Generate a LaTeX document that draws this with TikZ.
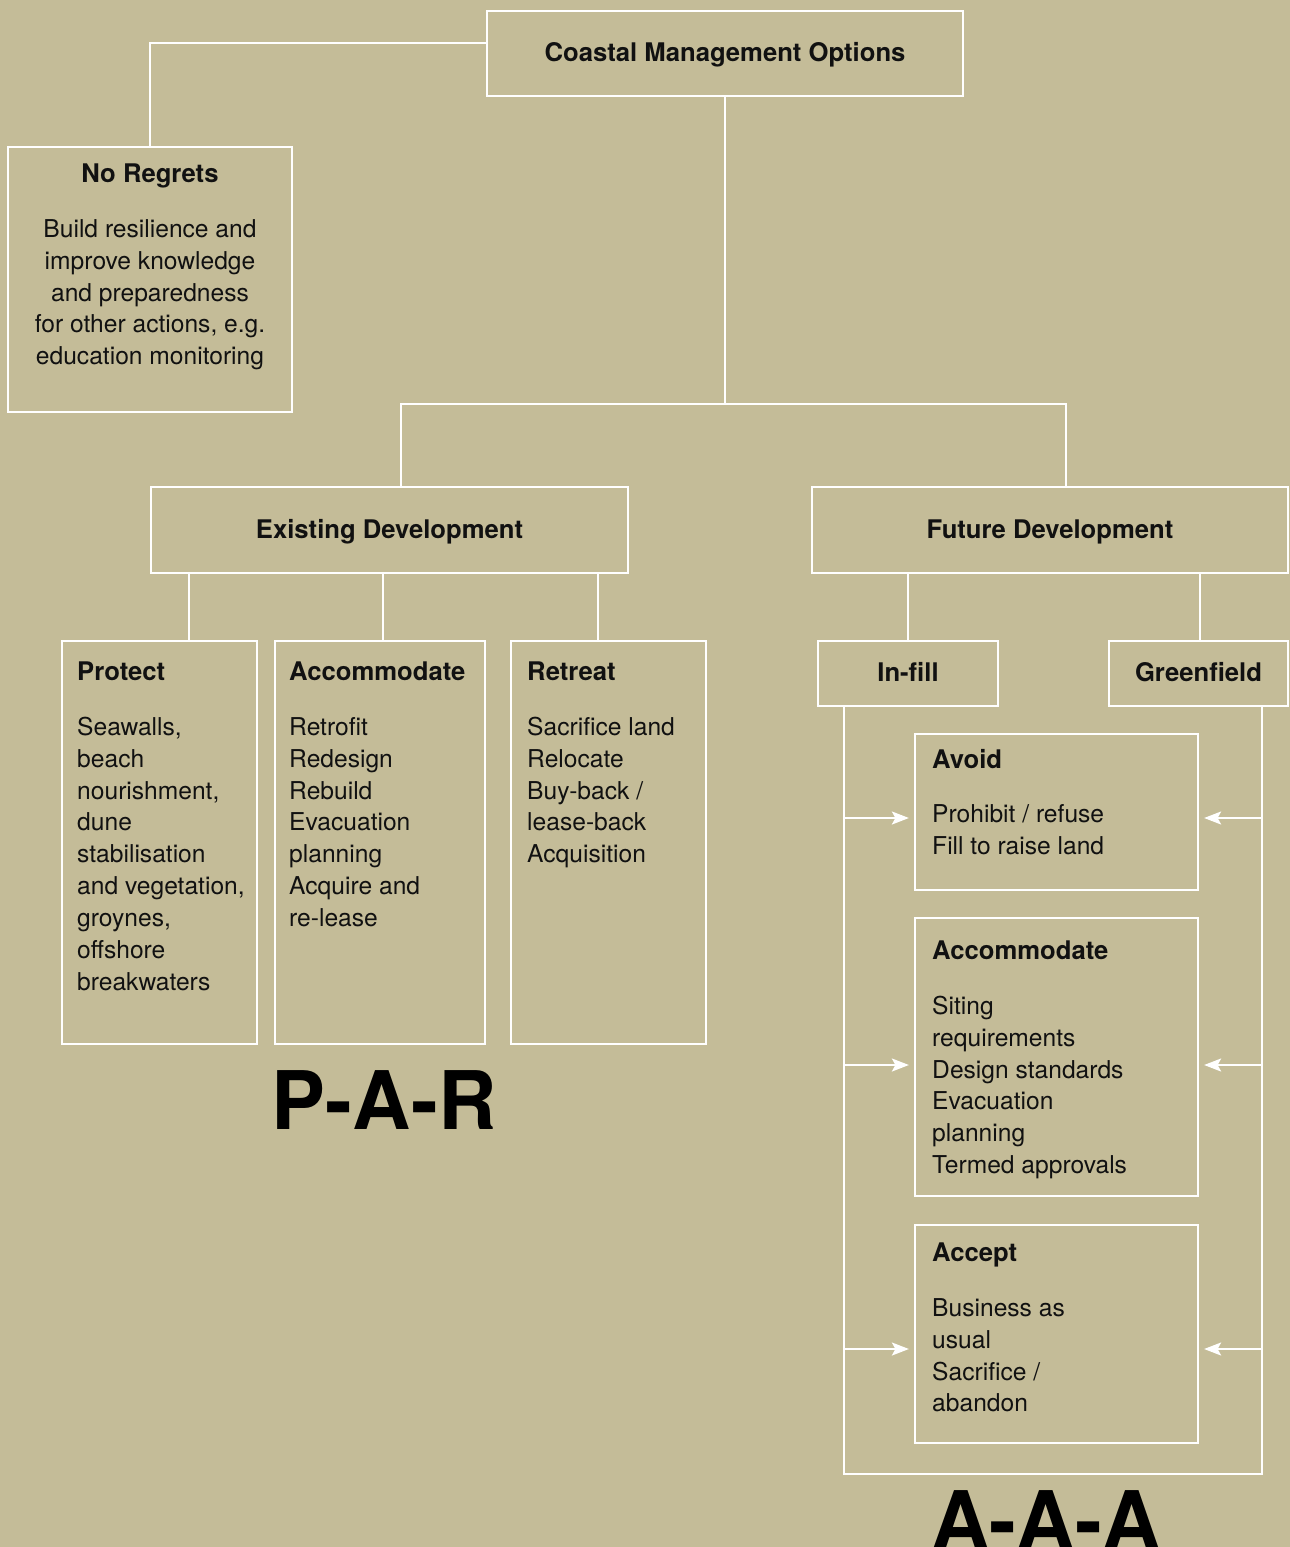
\documentclass[tikz,border=0pt]{standalone}
\usepackage{fontspec}
\setmainfont{TeX Gyre Heros}
\usepackage{xcolor}
\usetikzlibrary{arrows.meta}
\definecolor{sandbg}{HTML}{C4BC98}
\definecolor{inkblack}{HTML}{111111}
\newcommand{\hd}[1]{{\fontsize{14.6}{18.1}\selectfont\bfseries #1}}

\begin{document}
\begin{tikzpicture}[
  x=0.02cm, y=-0.02cm,
  every node/.style={font=\fontsize{14}{18.1}\selectfont, text=inkblack},
  box/.style={draw=white, line width=1.3pt, inner sep=0pt},
  head/.style={box, font=\fontsize{14.6}{18.1}\selectfont\bfseries, text depth=0.2ex, text height=2ex},
  txt/.style={inner sep=0pt, align=left, anchor=north west},
  link/.style={draw=white, line width=1.1pt},
  flow/.style={link, -{Stealth[length=0.34cm, width=0.26cm, inset=0.07cm]}, shorten >=0.1cm},
  big/.style={font=\fontsize{46}{46}\selectfont\bfseries, text=black, inner sep=0pt}
]

\fill[sandbg] (0,0) rectangle (1290,1547);
\useasboundingbox (0,0) rectangle (1290,1547);

\node[head, minimum width=9.52cm, minimum height=1.7cm] (cmo) at (725,53.5) {Coastal Management Options};
\node[box, minimum width=5.68cm, minimum height=5.3cm] (noreg) at (150,279.5) {};
\node[head, minimum width=9.54cm, minimum height=1.72cm] (existdev) at (389.5,530) {Existing Development};
\node[head, minimum width=9.52cm, minimum height=1.72cm] (futuredev) at (1050,530) {Future Development};

\node[box, minimum width=3.9cm, minimum height=8.06cm] (protect) at (159.5,842.5) {};
\node[box, minimum width=4.2cm, minimum height=8.06cm] (accom) at (380,842.5) {};
\node[box, minimum width=3.9cm, minimum height=8.06cm] (retreat) at (608.5,842.5) {};

\node[head, minimum width=3.6cm, minimum height=1.3cm] (infill) at (908,673.5) {In-fill};
\node[head, minimum width=3.58cm, minimum height=1.3cm] (greenfield) at (1198.5,673.5) {Greenfield};

\node[box, minimum width=5.66cm, minimum height=3.12cm] (avoid) at (1056.5,812) {};
\node[box, minimum width=5.66cm, minimum height=5.56cm] (faccom) at (1056.5,1057) {};
\node[box, minimum width=5.66cm, minimum height=4.36cm] (accept) at (1056.5,1334) {};

\node[inner sep=0pt, align=center, anchor=north] (noreg-txt) at ([yshift=-0.36cm]noreg.north)
  {\hd{No Regrets}\\[13pt] Build resilience and\\ improve knowledge\\ and preparedness\\ for other actions, e.g.\\ education monitoring};
\node[txt] (protect-txt) at ([shift={(0.32cm,-0.44cm)}]protect.north west)
  {\hd{Protect}\\[13pt] Seawalls,\\ beach\\ nourishment,\\ dune\\ stabilisation\\ and vegetation,\\ groynes,\\ offshore\\ breakwaters};
\node[txt] (accom-txt) at ([shift={(0.3cm,-0.44cm)}]accom.north west)
  {\hd{Accommodate}\\[13pt] Retrofit\\ Redesign\\ Rebuild\\ Evacuation\\ planning\\ Acquire and\\ re-lease};
\node[txt] (retreat-txt) at ([shift={(0.34cm,-0.44cm)}]retreat.north west)
  {\hd{Retreat}\\[13pt] Sacrifice land\\ Relocate\\ Buy-back /\\ lease-back\\ Acquisition};
\node[txt] (avoid-txt) at ([shift={(0.36cm,-0.32cm)}]avoid.north west)
  {\hd{Avoid}\\[13pt] Prohibit / refuse\\ Fill to raise land};
\node[txt] (faccom-txt) at ([shift={(0.36cm,-0.48cm)}]faccom.north west)
  {\hd{Accommodate}\\[13pt] Siting\\ requirements\\ Design standards\\ Evacuation\\ planning\\ Termed approvals};
\node[txt] (accept-txt) at ([shift={(0.36cm,-0.38cm)}]accept.north west)
  {\hd{Accept}\\[13pt] Business as\\ usual\\ Sacrifice /\\ abandon};

\node[big] (par) at (384,1100) {P-A-R};
\node[big, anchor=base] (aaa) at (1046,1549) {A-A-A};

\coordinate (split) at (725,404);
\coordinate (loopbase) at (1053,1474);
\coordinate (lft) at (844,0);
\coordinate (rgt) at (1262,0);

\draw[link] ([yshift=0.21cm]cmo.west) -| (noreg.north);
\draw[link] (cmo.south) -- (split);
\draw[link] ([xshift=0.23cm]existdev.north) |- (split) -| ([xshift=0.32cm]futuredev.north);

\draw[link] ([xshift=0.59cm]protect.north) -- ([xshift=0.59cm]protect.north |- existdev.south);
\draw[link] ([xshift=0.06cm]accom.north) -- ([xshift=0.06cm]accom.north |- existdev.south);
\draw[link] ([xshift=-0.21cm]retreat.north) -- ([xshift=-0.21cm]retreat.north |- existdev.south);

\draw[link] (infill.north) -- (infill.north |- futuredev.south);
\draw[link] ([xshift=0.03cm]greenfield.north) -- ([xshift=0.03cm]greenfield.north |- futuredev.south);

\draw[link] (infill.south -| lft) |- (loopbase) -| (greenfield.south -| rgt);

\draw[flow] ([yshift=-0.12cm]avoid.west -| lft) -- ([yshift=-0.12cm]avoid.west);
\draw[flow] ([yshift=-0.12cm]avoid.east -| rgt) -- ([yshift=-0.12cm]avoid.east);
\draw[flow] ([yshift=-0.16cm]faccom.west -| lft) -- ([yshift=-0.16cm]faccom.west);
\draw[flow] ([yshift=-0.16cm]faccom.east -| rgt) -- ([yshift=-0.16cm]faccom.east);
\draw[flow] ([yshift=-0.3cm]accept.west -| lft) -- ([yshift=-0.3cm]accept.west);
\draw[flow] ([yshift=-0.3cm]accept.east -| rgt) -- ([yshift=-0.3cm]accept.east);

\end{tikzpicture}
\end{document}
